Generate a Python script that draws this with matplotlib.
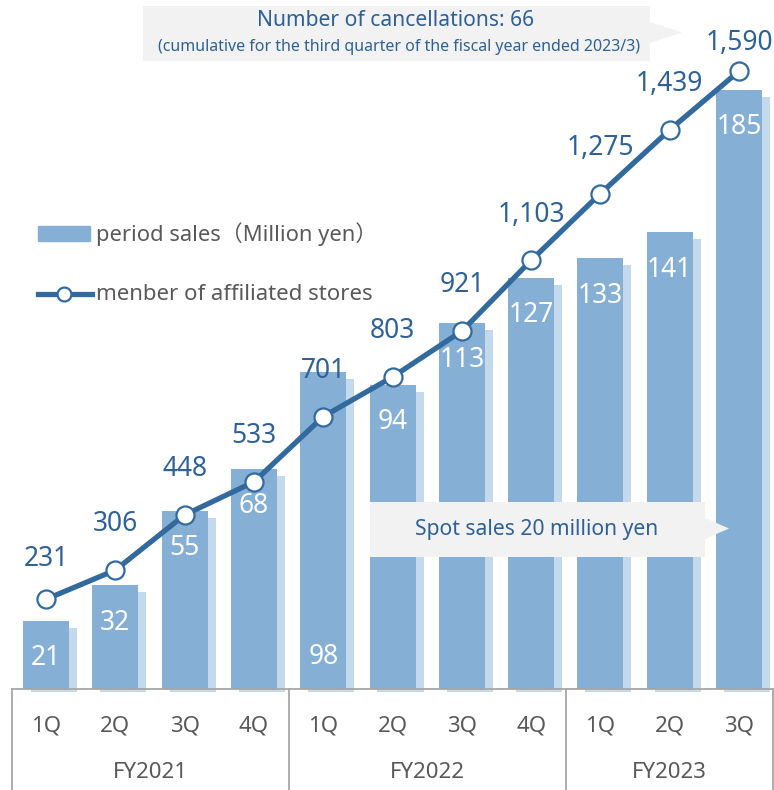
import numpy as np
import matplotlib
matplotlib.use("Agg")
import matplotlib.pyplot as plt
from matplotlib.patches import Rectangle, Polygon
from matplotlib.lines import Line2D

plt.rcParams['font.family'] = ['Noto Sans', 'Noto Sans CJK JP', 'DejaVu Sans']

# data
quarters = ['1Q', '2Q', '3Q', '4Q', '1Q', '2Q', '3Q', '4Q', '1Q', '2Q', '3Q']
years = ['FY2021', 'FY2022', 'FY2023']
year_span = [(0, 3), (4, 7), (8, 10)]
sales = [21, 32, 55, 68, 98, 94, 113, 127, 133, 141, 185]
stores = [231, 306, 448, 533, 701, 803, 921, 1103, 1275, 1439, 1590]

W, H = 774, 790
BAR_C = '#86afd6'
SHADOW_C = '#c5d9ec'
LINE_C = '#336a9e'
TEXT_C = '#2f6196'
GRID_C = '#a6a6a6'
TICK_C = '#595959'

fig = plt.figure(figsize=(W / 100, H / 100), dpi=100)

def fx(px):
    return px / W

def fy(py):
    return 1 - py / H

# axes: x from 11.4 to 773.7 px, y from 0 to 689 px
ax = fig.add_axes([fx(11.4), fy(689), fx(762.3), 689 / H])
ax2 = ax.twinx()
ax.set_xlim(-0.5, 10.5)
ax.set_ylim(0, 212.7)
ax2.set_ylim(0, 1773)
for a in (ax, ax2):
    a.axis('off')

x = np.arange(len(sales))
sales = np.array(sales)
# shadow bars behind
ax.bar(x + 0.115, sales - 2.2 + 1.0, bottom=-1.0, width=0.665, color=SHADOW_C, zorder=1, clip_on=False)
ax.bar(x, sales, width=0.665, color=BAR_C, zorder=2)

for i, v in enumerate(sales):
    if i == 4:
        ax.annotate(str(v), (i, 0), xytext=(0, 23), textcoords='offset points',
                    ha='center', va='center', color='white', fontsize=19, zorder=3)
    else:
        ax.annotate(str(v), (i, v), xytext=(0, -27), textcoords='offset points',
                    ha='center', va='center', color='white', fontsize=19, zorder=3)

ax2.plot(x, stores, color=LINE_C, lw=3.8, marker='o', ms=13, mfc='white',
         mec=LINE_C, mew=1.6, zorder=5, clip_on=False)
for i, v in enumerate(stores):
    off = 20 if i == 10 else (29 if i == 0 else 33)
    ax2.annotate(f'{v:,}', (i, v), xytext=(0, off), textcoords='offset points',
                 ha='center', va='center', color=TEXT_C, fontsize=19, zorder=6)

# category table below the plot
lines = [Line2D([fx(12), fx(774)], [fy(689), fy(689)])]
for px in (12, 288.6, 565.8, 772.5):
    lines.append(Line2D([fx(px), fx(px)], [fy(689), fy(790)]))
for ln in lines:
    ln.set_color(GRID_C)
    ln.set_linewidth(1.3)
    fig.add_artist(ln)

for i, q in enumerate(quarters):
    px = 11.4 + 69.3 * (i + 0.5)
    fig.text(fx(px), fy(726), q, ha='center', va='center', color=TICK_C, fontsize=16)
for (a, b), yr in zip(year_span, years):
    px = 11.4 + 69.3 * ((a + b) / 2 + 0.5)
    fig.text(fx(px), fy(773), yr, ha='center', va='center', color=TICK_C, fontsize=16)

# legend
fig.add_artist(Rectangle((fx(38), fy(241)), fx(52), 15 / H, color=BAR_C))
fig.text(fx(96), fy(234), 'period sales（Million yen）', ha='left', va='center',
         color=TICK_C, fontsize=15.8)
fig.add_artist(Line2D([fx(38), fx(92)], [fy(294), fy(294)], color=LINE_C, lw=3.8))
fig.add_artist(Line2D([fx(64)], [fy(294)], marker='o', ms=10, mfc='white', mec=LINE_C, mew=1.6))
fig.text(fx(96), fy(294), 'menber of affiliated stores', ha='left', va='center',
         color=TICK_C, fontsize=16)

# callouts
def callout(x0, x1, y0, y1, ay0, ay1, tip):
    pts = [(x0, y0), (x1, y0), (x1, ay0), (tip, (ay0 + ay1) / 2), (x1, ay1), (x1, y1), (x0, y1)]
    fig.add_artist(Polygon([(fx(a), fy(b)) for a, b in pts], closed=True,
                           facecolor='#f2f2f2', edgecolor='none', zorder=10))

callout(143, 650, 6, 61, 22, 43, 682)
fig.text(fx(396), fy(20), 'Number of cancellations: 66', ha='center', va='center',
         color=TEXT_C, fontsize=15.2, zorder=11)
fig.text(fx(399), fy(47), '(cumulative for the third quarter of the fiscal year ended 2023/3)',
         ha='center', va='center', color=TEXT_C, fontsize=11.5, zorder=11)

callout(370, 705, 502, 557, 518, 539, 729)
fig.text(fx(537), fy(530), 'Spot sales 20 million yen', ha='center', va='center',
         color=TEXT_C, fontsize=15.2, zorder=11)

fig.savefig('out.png', dpi=100)
